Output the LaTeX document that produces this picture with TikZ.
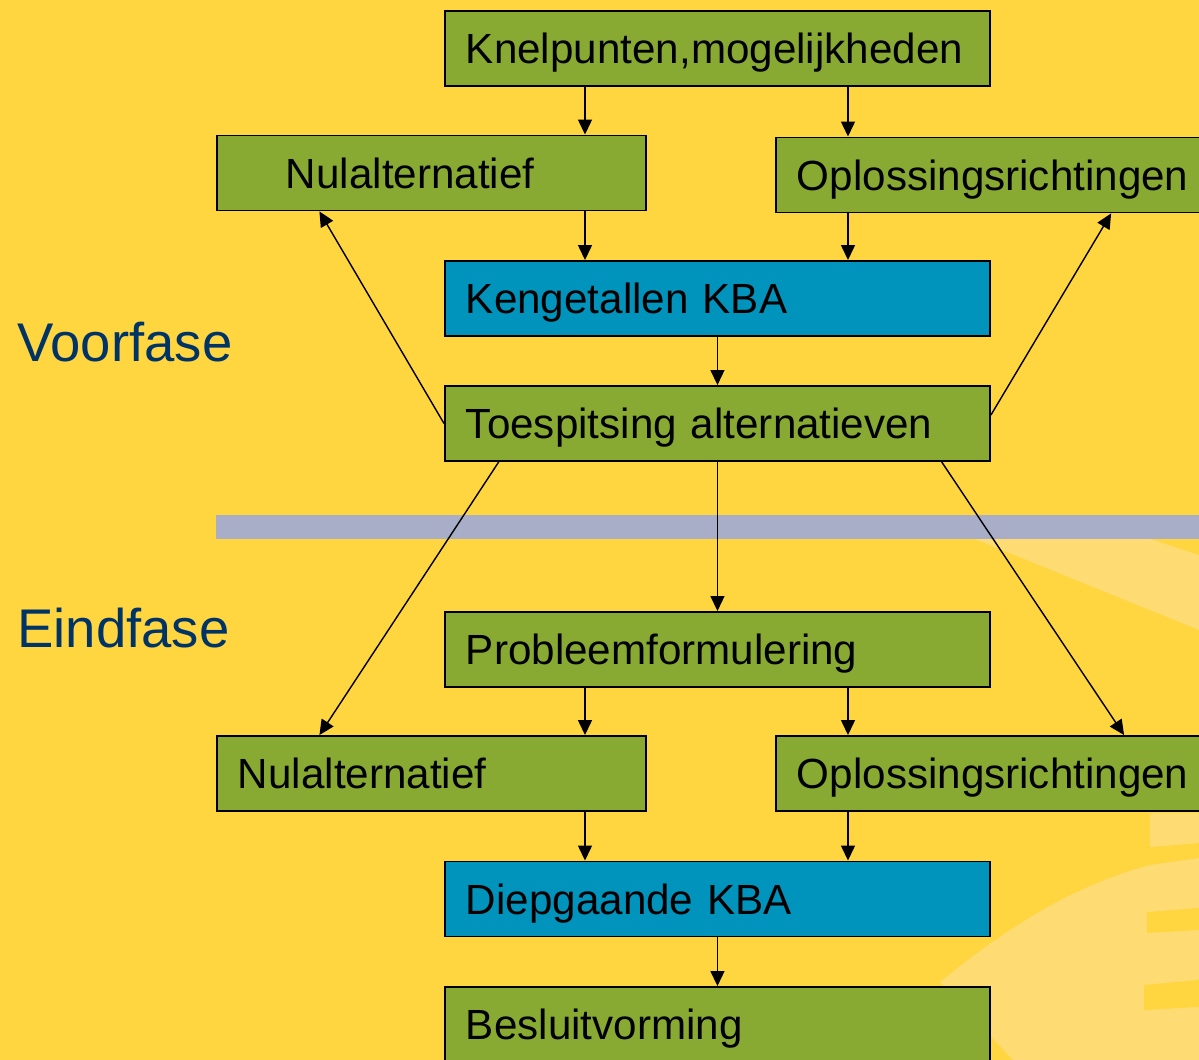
\documentclass[tikz,border=0pt]{standalone}
\usepackage{fontspec}
\setmainfont{Liberation Sans}
\usetikzlibrary{arrows.meta,calc}

\definecolor{geel}{RGB}{255,213,64}
\definecolor{lichtgeel}{RGB}{255,220,115}
\definecolor{groen}{RGB}{136,170,51}
\definecolor{blauw}{RGB}{0,147,187}
\definecolor{donkerblauw}{RGB}{0,51,102}
\definecolor{balk}{RGB}{168,173,200}

\tikzset{
  stap/.style={draw=black, line width=1.1pt, fill=groen, anchor=west, align=left,
    font=\fontsize{24}{28}\selectfont, text height=17.3pt, text depth=0pt,
    minimum height=1.5cm, inner xsep=0.42cm, inner ysep=0pt},
  breed/.style={stap, text width=10.06cm},
  smal/.style={stap, text width=7.74cm},
  kba/.style={fill=blauw},
  pijl/.style={line width=0.8pt, -{Triangle[length=0.3cm,width=0.28cm]}},
  fase/.style={anchor=base west, inner sep=0pt, text=donkerblauw,
    font=\fontsize{31}{36}\selectfont}
}

\begin{document}
\begin{tikzpicture}
\useasboundingbox (0,0) rectangle (23.98,-21.2);
% achtergrond
\fill[geel] (0,0) rectangle (23.98,-21.2);
\fill[lichtgeel] (19.5,-10.78) -- (23,-10.78) -- (23.98,-11.1) -- (23.98,-12.6) -- cycle;
\fill[lichtgeel] (23,-16.26) -- (23.98,-16.26) -- (23.98,-16.86) -- (23,-16.94) -- cycle;
\fill[lichtgeel] (18.8,-19.64) .. controls (20.2,-18.5) and (21.5,-17.7) .. (23,-17.3)
  -- (23.98,-17.16) -- (23.98,-21.2) -- (20.26,-21.2) -- cycle;
\fill[geel] (22.94,-18.24) -- (23.98,-18.16) -- (23.98,-18.6) -- (22.94,-18.66) -- cycle;
\fill[geel] (22.88,-19.7) -- (23.98,-19.6) -- (23.98,-20.14) -- (22.88,-20.2) -- cycle;
\fill[balk] (4.32,-10.3) rectangle (23.98,-10.78);

\coordinate (links) at (11.7,0);
\coordinate (rechts) at (16.96,0);

% voorfase
\node[breed] (kn) at (8.88,-0.97) {Knelpunten,mogelijkheden};
\node[smal] (nul1) at (4.32,-3.46) {\hspace*{0.96cm}Nulalternatief};
\node[smal] (opl1) at (15.5,-3.5) {Oplossingsrichtingen};
\node[breed,kba] (keng) at (8.88,-5.97) {Kengetallen KBA};
\node[breed] (toe) at (8.88,-8.47) {Toespitsing alternatieven};

% eindfase
\node[breed] (prob) at (8.88,-12.99) {Probleemformulering};
\node[smal] (nul2) at (4.32,-15.47) {Nulalternatief};
\node[smal] (opl2) at (15.5,-15.47) {Oplossingsrichtingen};
\node[breed,kba] (diep) at (8.88,-17.98) {Diepgaande KBA};
\node[breed] (bes) at (8.88,-20.49) {Besluitvorming};

\node[fase] (voor) at (0.34,-7.24) {Voorfase};
\node[fase] (eind) at (0.34,-12.96) {Eindfase};

\draw[pijl] (kn.south -| links) -- (nul1.north -| links);
\draw[pijl] (kn.south -| rechts) -- (opl1.north -| rechts);
\draw[pijl] (nul1.south -| links) -- (keng.north -| links);
\draw[pijl] (opl1.south -| rechts) -- (keng.north -| rechts);
\draw[pijl] (keng.south) -- (toe.north);
\draw[pijl] (toe.west) -- ($(nul1.south west)!0.24!(nul1.south east)$);
\draw[pijl] ([yshift=0.17cm]toe.east) -- ($(opl1.south west)!0.78!(opl1.south east)$);
\draw[pijl] ($(toe.south west)!0.1!(toe.south east)$) -- ($(nul2.north west)!0.24!(nul2.north east)$);
\draw[pijl] (toe.south) -- (prob.north);
\draw[pijl] ($(toe.south west)!0.91!(toe.south east)$) -- ($(opl2.north west)!0.81!(opl2.north east)$);
\draw[pijl] (prob.south -| links) -- (nul2.north -| links);
\draw[pijl] (prob.south -| rechts) -- (opl2.north -| rechts);
\draw[pijl] (nul2.south -| links) -- (diep.north -| links);
\draw[pijl] (opl2.south -| rechts) -- (diep.north -| rechts);
\draw[pijl] (diep.south) -- (bes.north);
\end{tikzpicture}
\end{document}
